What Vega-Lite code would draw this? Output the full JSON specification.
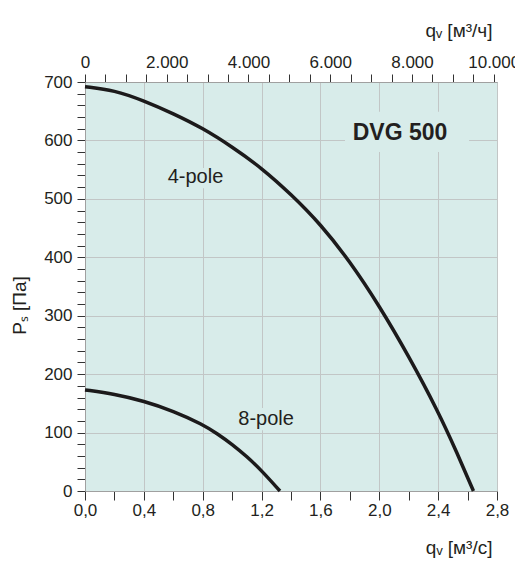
{
  "$schema": "https://vega.github.io/schema/vega-lite/v6.json",
  "width": 412,
  "height": 409,
  "autosize": "none",
  "padding": {"left": 85, "top": 82, "right": 18, "bottom": 70},
  "background": "white",
  "config": {
    "font": "Liberation Sans",
    "view": {"fill": "#d8ecea", "stroke": "#b8bcbc", "strokeWidth": 1},
    "axis": {
      "labelFont": "Liberation Sans",
      "labelFontSize": 17,
      "labelColor": "#231f20",
      "titleFont": "Liberation Sans",
      "titleFontSize": 19,
      "titleFontWeight": "normal",
      "titleColor": "#231f20",
      "tickColor": "#333333",
      "tickWidth": 1,
      "domainColor": "#a0a0a0",
      "gridColor": "#c2c6c6",
      "gridWidth": 1,
      "labelOverlap": false,
      "labelFlush": false,
      "labelBound": false
    }
  },
  "datasets": {
    "curves": [
      {"curve": "4-pole", "q": 0.0, "p": 692},
      {"curve": "4-pole", "q": 0.2, "p": 686},
      {"curve": "4-pole", "q": 0.4, "p": 668},
      {"curve": "4-pole", "q": 0.6, "p": 646},
      {"curve": "4-pole", "q": 0.8, "p": 621},
      {"curve": "4-pole", "q": 1.0, "p": 589},
      {"curve": "4-pole", "q": 1.2, "p": 553},
      {"curve": "4-pole", "q": 1.4, "p": 508},
      {"curve": "4-pole", "q": 1.6, "p": 457},
      {"curve": "4-pole", "q": 1.8, "p": 393},
      {"curve": "4-pole", "q": 2.0, "p": 317},
      {"curve": "4-pole", "q": 2.2, "p": 231},
      {"curve": "4-pole", "q": 2.4, "p": 136},
      {"curve": "4-pole", "q": 2.52, "p": 70},
      {"curve": "4-pole", "q": 2.64, "p": 0},
      {"curve": "8-pole", "q": 0.0, "p": 173},
      {"curve": "8-pole", "q": 0.2, "p": 166},
      {"curve": "8-pole", "q": 0.4, "p": 154},
      {"curve": "8-pole", "q": 0.6, "p": 137},
      {"curve": "8-pole", "q": 0.8, "p": 114},
      {"curve": "8-pole", "q": 0.9, "p": 98},
      {"curve": "8-pole", "q": 1.0, "p": 80},
      {"curve": "8-pole", "q": 1.1, "p": 59},
      {"curve": "8-pole", "q": 1.2, "p": 35},
      {"curve": "8-pole", "q": 1.325, "p": 0}
    ],
    "labels": [
      {"text": "4-pole", "q": 0.751, "p": 537, "q1": 0.54, "q2": 0.96, "p1": 518, "p2": 553},
      {"text": "8-pole", "q": 1.231, "p": 123, "q1": 1.03, "q2": 1.43, "p1": 104, "p2": 142}
    ],
    "title": [
      {"text": "DVG 500", "q": 2.141, "p": 612, "q1": 1.767, "q2": 2.61, "p1": 580, "p2": 649}
    ],
    "top": [{"h": 0}, {"h": 10080}]
  },
  "layer": [
    {
      "layer": [
        {
          "data": {"name": "labels"},
          "mark": {"type": "rect", "fill": "#d8ecea"},
          "encoding": {
            "x": {"field": "q1", "type": "quantitative", "scale": {"domain": [0, 2.8], "nice": false, "zero": false},
              "axis": {
                "orient": "bottom",
                "values": [0, 0.2, 0.4, 0.6, 0.8, 1.0, 1.2, 1.4, 1.6, 1.8, 2.0, 2.2, 2.4, 2.6, 2.8],
                "tickCount": 200,
                "labelExpr": "round(datum.value*10) % 4 === 0 ? replace(format(datum.value, '.1f'), '.', ',') : ''",
                "labelOverlap": false,
                "tickSize": 9,
                "encode": {"ticks": {"update": {"y2": {"signal": "round(datum.value*10) % 4 === 0 ? 9 : 5"}}}},
                "grid": true,
                "gridOpacity": {"condition": {"test": "round(datum.value*10) % 4 === 0", "value": 1}, "value": 0},
                "labelPadding": 2,
                "title": "qᵥ [м³/с]",
                "titleAnchor": "end",
                "titleAlign": "right",
                "titleBaseline": "middle",
                "titleX": 407,
                "titleY": 56
              }
            },
            "x2": {"field": "q2"},
            "y": {"field": "p1", "type": "quantitative", "scale": {"domain": [0, 700], "nice": false},
              "axis": {
                "orient": "left",
                "values": [0, 20, 40, 60, 80, 100, 120, 140, 160, 180, 200, 220, 240, 260, 280, 300, 320, 340, 360, 380, 400, 420, 440, 460, 480, 500, 520, 540, 560, 580, 600, 620, 640, 660, 680, 700],
                "tickCount": 200,
                "labelExpr": "datum.value % 100 === 0 ? datum.label : ''",
                "labelOverlap": false,
                "tickSize": 8,
                "encode": {"ticks": {"update": {"x2": {"signal": "datum.value % 100 === 0 ? -8 : -5"}}}},
                "grid": true,
                "gridOpacity": {"condition": {"test": "datum.value % 100 === 0", "value": 1}, "value": 0},
                "labelPadding": 5,
                "title": "Pₛ [Па]",
                "titleAngle": -90,
                "titleAlign": "center",
                "titleBaseline": "middle",
                "titleX": -66,
                "titleY": 223
              }
            },
            "y2": {"field": "p2"}
          }
        },
        {
          "data": {"name": "title"},
          "mark": {"type": "rect", "fill": "#d8ecea"},
          "encoding": {
            "x": {"field": "q1", "type": "quantitative"},
            "x2": {"field": "q2"},
            "y": {"field": "p1", "type": "quantitative"},
            "y2": {"field": "p2"}
          }
        },
        {
          "data": {"name": "curves"},
          "mark": {"type": "line", "interpolate": "basis", "strokeWidth": 3.5, "color": "#1c1a1b"},
          "encoding": {
            "x": {"field": "q", "type": "quantitative"},
            "y": {"field": "p", "type": "quantitative"},
            "detail": {"field": "curve"}
          }
        },
        {
          "data": {"name": "labels"},
          "mark": {"type": "text", "color": "#231f20", "font": "Liberation Sans", "fontSize": 20, "align": "center", "baseline": "middle"},
          "encoding": {
            "x": {"field": "q", "type": "quantitative"},
            "y": {"field": "p", "type": "quantitative"},
            "text": {"field": "text"}
          }
        },
        {
          "data": {"name": "title"},
          "mark": {"type": "text", "color": "#231f20", "font": "Liberation Sans", "fontSize": 23, "fontWeight": "bold", "align": "center", "baseline": "middle"},
          "encoding": {
            "x": {"field": "q", "type": "quantitative"},
            "y": {"field": "p", "type": "quantitative"},
            "text": {"field": "text"}
          }
        }
      ]
    },
    {
      "data": {"name": "top"},
      "mark": {"type": "point", "opacity": 0},
      "encoding": {
        "x": {"field": "h", "type": "quantitative", "scale": {"domain": [0, 10080], "nice": false},
          "axis": {
            "orient": "top",
            "values": [0, 500, 1000, 1500, 2000, 2500, 3000, 3500, 4000, 4500, 5000, 5500, 6000, 6500, 7000, 7500, 8000, 8500, 9000, 9500, 10000],
            "tickCount": 200,
            "labelExpr": "datum.value % 2000 === 0 ? replace(format(datum.value, ',d'), ',', '.') : ''",
            "labelOverlap": false,
            "tickSize": 8,
            "encode": {"ticks": {"update": {"y2": {"signal": "datum.value % 2000 === 0 ? -8 : -5"}}}},
            "grid": false,
            "domain": true,
            "labelPadding": 3,
            "title": "qᵥ [м³/ч]",
            "titleAnchor": "end",
            "titleAlign": "right",
            "titleBaseline": "middle",
            "titleX": 407,
            "titleY": -52
          }
        }
      }
    }
  ],
  "resolve": {"scale": {"x": "independent"}}
}
